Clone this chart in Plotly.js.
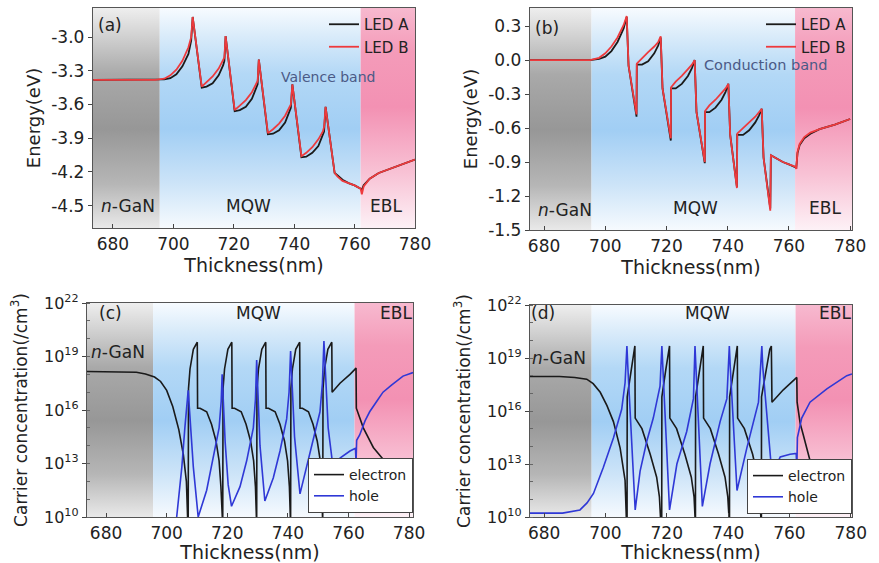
<!DOCTYPE html>
<html><head><meta charset="utf-8">
<script src="https://cdn.plot.ly/plotly-3.0.1.min.js"></script>
<style>html,body{margin:0;padding:0;background:#fff}#chart{width:879px;height:563px}</style>
</head><body><div id="chart"></div>
<script>
// ================= DATA =================
// layer boundaries (nm): n-GaN | MQW | EBL
const regionEdges = [695.5, 762];
const xTickVals = [680, 700, 720, 740, 760, 780];
const vbTicks = [-4.5, -4.2, -3.9, -3.6, -3.3, -3.0];
const cbTicks = [-1.5, -1.2, -0.9, -0.6, -0.3, 0.0, 0.3];
const logTickExp = [10, 13, 16, 19, 22];

// (a) valence band energy (eV)
const vbX = [673.5,694,697,699,701,703,705,705.9,706.4,
  709.4,711,713,715,716.5,716.9,717.3,
  720.3,722,724,726,727.5,727.9,728.3,
  731.3,733,735,737,738.5,738.9,739.4,
  742.4,744,746,748,749.5,749.9,750.4,
  751.4,753.4,754.3,756,758,760,762,762.4,763,765,768,771,775,780];
const vbLedA = [-3.38,-3.38,-3.375,-3.365,-3.33,-3.26,-3.15,-3.03,-2.82,
  -3.45,-3.44,-3.41,-3.34,-3.25,-3.21,-2.99,
  -3.66,-3.65,-3.62,-3.55,-3.46,-3.42,-3.20,
  -3.865,-3.86,-3.83,-3.76,-3.67,-3.63,-3.42,
  -4.07,-4.065,-4.03,-3.97,-3.88,-3.84,-3.62,
  -3.82,-4.21,-4.23,-4.27,-4.30,-4.32,-4.35,-4.36,-4.32,-4.26,-4.21,-4.18,-4.14,-4.09];
const vbLedB = [-3.38,-3.38,-3.37,-3.34,-3.29,-3.21,-3.09,-3.00,-2.82,
  -3.44,-3.40,-3.35,-3.28,-3.21,-3.18,-2.99,
  -3.65,-3.61,-3.56,-3.49,-3.42,-3.39,-3.20,
  -3.855,-3.82,-3.77,-3.70,-3.63,-3.60,-3.42,
  -4.06,-4.03,-3.98,-3.91,-3.84,-3.80,-3.62,
  -3.82,-4.21,-4.24,-4.28,-4.30,-4.32,-4.35,-4.40,-4.33,-4.26,-4.21,-4.18,-4.14,-4.09];

// (b) conduction band energy (eV)
const cbX = [675.4,695,698,700,702,704,706,707.0,
  707.6,710.2,
  710.3,712,714,716,717.3,718.1,
  718.7,721.4,
  721.5,723,725,727,728.3,729.2,
  729.8,732.5,
  732.6,734,736,738,739.3,740.2,
  740.8,743.0,
  743.1,745,747,749,750.2,751.1,
  751.7,753.9,
  754.1,756,758,760,762,762.4,762.8,763.5,765,767,770,775,780];
const cbLedA = [0.0,0.0,0.01,0.03,0.08,0.16,0.28,0.38,
  -0.05,-0.50,
  -0.04,-0.04,-0.01,0.06,0.13,0.20,
  -0.25,-0.71,
  -0.25,-0.25,-0.21,-0.14,-0.07,0.0,
  -0.46,-0.91,
  -0.46,-0.46,-0.42,-0.35,-0.28,-0.21,
  -0.66,-1.12,
  -0.66,-0.66,-0.62,-0.55,-0.49,-0.43,
  -0.86,-1.31,
  -0.84,-0.87,-0.90,-0.92,-0.94,-0.95,-0.82,-0.75,-0.69,-0.65,-0.61,-0.57,-0.52];
const cbLedB = [0.0,0.0,0.02,0.06,0.12,0.20,0.31,0.39,
  -0.05,-0.48,
  -0.03,0.02,0.07,0.12,0.16,0.21,
  -0.25,-0.69,
  -0.24,-0.19,-0.14,-0.08,-0.04,0.0,
  -0.46,-0.90,
  -0.45,-0.40,-0.35,-0.29,-0.25,-0.21,
  -0.66,-1.13,
  -0.65,-0.60,-0.55,-0.50,-0.46,-0.43,
  -0.86,-1.33,
  -0.84,-0.87,-0.90,-0.92,-0.94,-0.96,-0.81,-0.74,-0.68,-0.64,-0.61,-0.57,-0.52];

// (c) LED A carrier concentration, log10(/cm^3)
const elecXc = [673.7,685,690,693,696,698,700,702,704,705.5,706.5,707.0,
  707.1,707.2,707.7,708.8,709.8,710.1,710.2,711.0,713.2,714.8,716.3,717.3,717.9,718.4,
  718.5,718.6,719.1,720.2,721.2,721.5,721.6,722.4,724.6,726.2,727.7,728.7,729.3,729.6,
  729.7,729.8,730.3,731.4,732.4,732.7,732.8,733.6,735.8,737.4,738.9,739.9,740.5,740.8,
  740.9,741.0,741.5,742.6,743.6,743.9,744.0,744.8,746.8,748.3,749.7,750.7,751.2,751.4,
  751.5,751.6,752.1,753.2,754.2,754.5,754.6,757.2,760.5,762.5,762.6,764.9,768.2,772.6,778.0,781.3];
const elecLogC = [18.16,18.16,18.12,18.02,17.85,17.6,17.1,16.2,14.9,13.5,12.0,9.5,
  9.5,17.2,18.3,19.4,19.78,19.8,16.1,16.1,15.9,15.2,14.25,13.15,11.7,9.5,
  9.5,17.2,18.3,19.4,19.78,19.8,16.1,16.1,15.9,15.2,14.25,13.15,11.7,9.5,
  9.5,17.2,18.3,19.4,19.78,19.8,16.1,16.1,15.9,15.2,14.25,13.15,11.7,9.5,
  9.5,17.2,18.3,19.4,19.78,19.8,16.1,16.1,15.9,15.2,14.25,13.15,11.7,9.5,
  9.5,17.2,18.3,19.4,19.78,19.8,17.0,17.5,18.0,18.35,16.1,15.0,13.9,13.0,12.2,11.3];
const holeXc = [673.7,702.5,703.3,705.0,706.0,706.7,707.1,708.8,710.4,
  713.2,715.4,717.3,718.0,718.3,719.3,720.3,721.4,
  724.2,726.4,728.6,729.3,729.7,730.8,732.4,
  735.2,737.4,739.6,740.4,740.9,742.2,744.0,
  746.2,748.4,750.6,751.4,751.9,753.3,754.9,
  757.2,760.5,762.3,762.5,762.7,763.7,765.5,767.0,769.8,771.4,774.2,778.0,781.3];
const holeLogC = [8,9.0,10.0,12.8,15.0,16.3,17.1,12.8,10.0,
  11.5,13.3,15.0,16.5,18.0,14.2,11.8,10.6,
  11.7,13.15,15.0,16.6,18.8,14.0,10.9,
  12.2,13.7,15.5,17.0,19.3,14.5,11.3,
  12.8,14.25,15.9,17.5,19.87,15.0,12.8,
  13.3,13.7,13.85,13.0,14.3,14.6,15.4,15.9,16.6,17.0,17.4,17.9,18.1];

// (d) LED B carrier concentration, log10(/cm^3)
const elecXd = [675.4,685,690,693.9,696,698.3,700.5,702.6,704.8,706.4,706.9,
  707.05,707.1,708.4,709.3,709.6,709.7,711.9,714.6,716.7,717.6,718.1,
  718.35,718.4,719.7,720.6,720.9,721.0,723.2,725.9,728.0,728.9,729.3,
  729.35,729.4,730.7,731.6,731.9,732.0,734.2,736.9,739.0,739.9,740.3,
  740.45,740.5,741.8,742.7,743.0,743.1,745.3,748.0,749.6,750.3,750.7,
  750.85,750.9,752.4,753.6,754.1,754.3,758,762.4,762.5,763.5,764.5,766.7,770,774,778.7,780.4];
const elecLogD = [17.95,17.95,17.9,17.8,17.55,17.06,16.3,15.4,13.9,12.07,9.5,
  9.5,16.8,18.35,19.5,19.68,15.6,15.0,13.55,12.25,11.14,9.5,
  9.5,16.8,18.35,19.5,19.68,15.6,15.0,13.55,12.25,11.14,9.5,
  9.5,16.8,18.35,19.5,19.68,15.6,15.0,13.55,12.25,11.14,9.5,
  9.5,16.8,18.35,19.5,19.68,15.6,15.0,13.55,12.25,11.14,9.5,
  9.5,16.8,18.35,19.5,19.68,16.5,17.2,17.9,16.5,15.3,14.66,13.2,12.25,11.5,10.6,10.4];
const holeXd = [675.4,686,691.7,694,696.1,699.3,702.6,705.3,706.4,707.0,707.3,709.7,
  711.3,713.5,715.6,717.8,718.4,718.7,720.9,
  723.3,726.5,728.7,729.2,729.5,731.6,
  734.1,737.4,739.6,740.4,740.7,742.9,
  746.1,748.3,749.9,751.0,751.3,754.3,
  757.0,760.2,762.2,762.4,762.6,764.0,766.7,772.2,778.7,780.4];
const holeLogD = [10.22,10.22,10.4,10.8,11.33,12.8,14.47,16.1,17.6,19.68,18.5,10.4,
  12.6,14.3,15.6,17.4,19.68,18.5,10.4,
  13.0,14.84,16.7,19.68,18.5,10.6,
  13.0,15.4,16.7,19.68,18.5,11.5,
  13.9,15.4,16.5,19.68,18.5,12.4,
  13.4,13.55,13.6,12.6,14.5,15.6,16.5,17.25,18.0,18.1];

// ================= STYLE / LAYOUT =================
const W = 879, H = 563;
const FONT = 'DejaVu Sans, Arial, sans-serif';
const TXT = '#222';
const pow10 = a => a.map(v => Math.pow(10, v));

// panel pixel boxes [left, top, right, bottom] and x/y ranges
const panels = [
  {id:'a', box:[93, 8, 415, 228], xr:[673.4, 780], yr:[-4.7, -2.74], log:false},
  {id:'b', box:[530, 8, 852, 230], xr:[675.4, 780.6], yr:[-1.5, 0.46], log:false},
  {id:'c', box:[87, 303, 413, 517], xr:[673.7, 781.3], yr:[10, 22], log:true},
  {id:'d', box:[530, 305, 852, 517], xr:[675.4, 780.4], yr:[10, 22], log:true}
];

const grayScale = [[0,'#e9e9e9'],[0.2,'#b6b6b6'],[0.45,'#979797'],[0.7,'#a9a9a9'],[0.88,'#d3d3d3'],[1,'#eeeeee']];
const blueScale = [[0,'#f6fafe'],[0.2,'#cde4f8'],[0.45,'#a1cef4'],[0.7,'#b3d8f6'],[0.88,'#dbecfa'],[1,'#f7fbff']];
const pinkScale = [[0,'#fdf1f6'],[0.25,'#f8c2d5'],[0.55,'#f391b3'],[0.8,'#f49bb9'],[1,'#f7b9cf']];

const traces = [];
const layout = {
  width: W, height: H, margin:{l:0,r:0,t:0,b:0},
  paper_bgcolor:'#fff', plot_bgcolor:'#fff', showlegend:true,
  annotations: [], font:{family:FONT, color:TXT}
};

panels.forEach((p, i) => {
  const n = i === 0 ? '' : String(i + 1);
  const xa = 'x' + n, ya = 'y' + n;
  const [l, t, r, b] = p.box;
  layout['xaxis' + n] = {
    domain:[l / W, r / W], range:p.xr, anchor:ya, tickvals:xTickVals,
    ticks:'inside', ticklen:4, tickcolor:'#444', showline:true, mirror:true,
    linecolor:'#555', linewidth:1.2, showgrid:false, zeroline:false,
    tickfont:{family:FONT, size:17, color:TXT},
    title:{text:'Thickness(nm)', font:{family:FONT, size:19, color:TXT}, standoff:0}
  };
  const yax = {
    domain:[1 - b / H, 1 - t / H], range:p.yr, anchor:xa,
    ticks:'outside', ticklen:4, tickcolor:'#444', showline:true, mirror:true,
    linecolor:'#555', linewidth:1.2, showgrid:false, zeroline:false,
    tickfont:{family:FONT, size:p.log ? 16 : 17, color:TXT}
  };
  if (p.log) {
    yax.type = 'log';
    yax.tickvals = pow10(logTickExp);
    yax.ticktext = logTickExp.map(e => '10<sup>' + e + '</sup>');
    yax.minor = {dtick:1, ticks:'inside', ticklen:3, tickcolor:'#666'};
    yax.title = {text:'Carrier concentration(/cm<sup>3</sup>)', font:{family:FONT, size:17, color:TXT}, standoff:12};
  } else {
    const tv = p.id === 'a' ? vbTicks : cbTicks;
    yax.tickvals = tv;
    yax.ticktext = tv.map(v => v.toFixed(1));
    yax.title = {text:'Energy(eV)', font:{family:FONT, size:18, color:TXT}, standoff:6};
  }
  layout['yaxis' + n] = yax;

  // shaded layer backgrounds (n-GaN, MQW, EBL)
  const xs = [p.xr[0], regionEdges[0], regionEdges[1], p.xr[1]];
  const y0 = p.log ? Math.pow(10, p.yr[0]) : p.yr[0];
  const y1 = p.log ? Math.pow(10, p.yr[1]) : p.yr[1];
  [grayScale, blueScale, pinkScale].forEach((cs, k) => {
    traces.push({
      type:'scatter', xaxis:xa, yaxis:ya, mode:'lines', line:{width:0},
      x:[xs[k], xs[k+1], xs[k+1], xs[k], xs[k]], y:[y0, y0, y1, y1, y0],
      fill:'toself', fillgradient:{type:'vertical', colorscale:cs},
      hoverinfo:'skip', showlegend:false
    });
  });
});

// (a)
traces.push({type:'scatter', mode:'lines', xaxis:'x', yaxis:'y', x:vbX, y:vbLedA, name:'LED A', legend:'legend', line:{color:'#1a1a1a', width:1.8}});
traces.push({type:'scatter', mode:'lines', xaxis:'x', yaxis:'y', x:vbX, y:vbLedB, name:'LED B', legend:'legend', line:{color:'#ee3a3d', width:1.8}});
// (b)
traces.push({type:'scatter', mode:'lines', xaxis:'x2', yaxis:'y2', x:cbX, y:cbLedA, name:'LED A', legend:'legend2', line:{color:'#1a1a1a', width:1.8}});
traces.push({type:'scatter', mode:'lines', xaxis:'x2', yaxis:'y2', x:cbX, y:cbLedB, name:'LED B', legend:'legend2', line:{color:'#ee3a3d', width:1.8}});
// (c)
traces.push({type:'scatter', mode:'lines', xaxis:'x3', yaxis:'y3', x:elecXc, y:pow10(elecLogC), name:'electron', legend:'legend3', line:{color:'#1a1a1a', width:1.6}});
traces.push({type:'scatter', mode:'lines', xaxis:'x3', yaxis:'y3', x:holeXc, y:pow10(holeLogC), name:'hole', legend:'legend3', line:{color:'#2f38d6', width:1.6}});
// (d)
traces.push({type:'scatter', mode:'lines', xaxis:'x4', yaxis:'y4', x:elecXd, y:pow10(elecLogD), name:'electron', legend:'legend4', line:{color:'#1a1a1a', width:1.6}});
traces.push({type:'scatter', mode:'lines', xaxis:'x4', yaxis:'y4', x:holeXd, y:pow10(holeLogD), name:'hole', legend:'legend4', line:{color:'#2f38d6', width:1.6}});

const legBase = {bgcolor:'rgba(0,0,0,0)', tracegroupgap:0, itemwidth:30};
layout.legend  = Object.assign({}, legBase, {x:415/W, xanchor:'right', y:1-8/H, yanchor:'top', font:{family:FONT, size:15, color:TXT}});
layout.legend2 = Object.assign({}, legBase, {x:852/W, xanchor:'right', y:1-8/H, yanchor:'top', font:{family:FONT, size:15, color:TXT}});
layout.legend3 = Object.assign({}, legBase, {x:413/W, xanchor:'right', y:1-513/H, yanchor:'bottom', bgcolor:'#fff', bordercolor:'#444', borderwidth:1, font:{family:FONT, size:14, color:TXT}});
layout.legend4 = Object.assign({}, legBase, {x:852/W, xanchor:'right', y:1-514/H, yanchor:'bottom', bgcolor:'#fff', bordercolor:'#444', borderwidth:1, font:{family:FONT, size:14, color:TXT}});

// text labels inside panels: [text, px, py, size, color]
const labels = [
  ['(a)', 110, 25, 17, TXT], ['<i>n</i>-GaN', 128, 206, 17, TXT], ['MQW', 248, 206, 17, TXT], ['EBL', 386, 206, 17, TXT],
  ['Valence band', 328, 77, 14, '#4b5a86'],
  ['(b)', 547, 28, 17, TXT], ['<i>n</i>-GaN', 565, 210, 17, TXT], ['MQW', 695, 208, 17, TXT], ['EBL', 825, 208, 17, TXT],
  ['Conduction band', 765, 65, 14.5, '#4b5a86'],
  ['(c)', 111, 313, 17, TXT], ['<i>n</i>-GaN', 118, 352, 17, TXT], ['MQW', 258, 313, 17, TXT], ['EBL', 396, 313, 17, TXT],
  ['(d)', 543, 313, 17, TXT], ['<i>n</i>-GaN', 559, 358, 17, TXT], ['MQW', 707, 313, 17, TXT], ['EBL', 835, 313, 17, TXT]
];
labels.forEach(([t, px, py, s, c]) => layout.annotations.push({
  text:t, xref:'paper', yref:'paper', x:px / W, y:1 - py / H, xanchor:'center', yanchor:'middle',
  showarrow:false, font:{family:FONT, size:s, color:c}
}));

Plotly.newPlot('chart', traces, layout, {displayModeBar:false, staticPlot:true});
</script>
</body></html>
